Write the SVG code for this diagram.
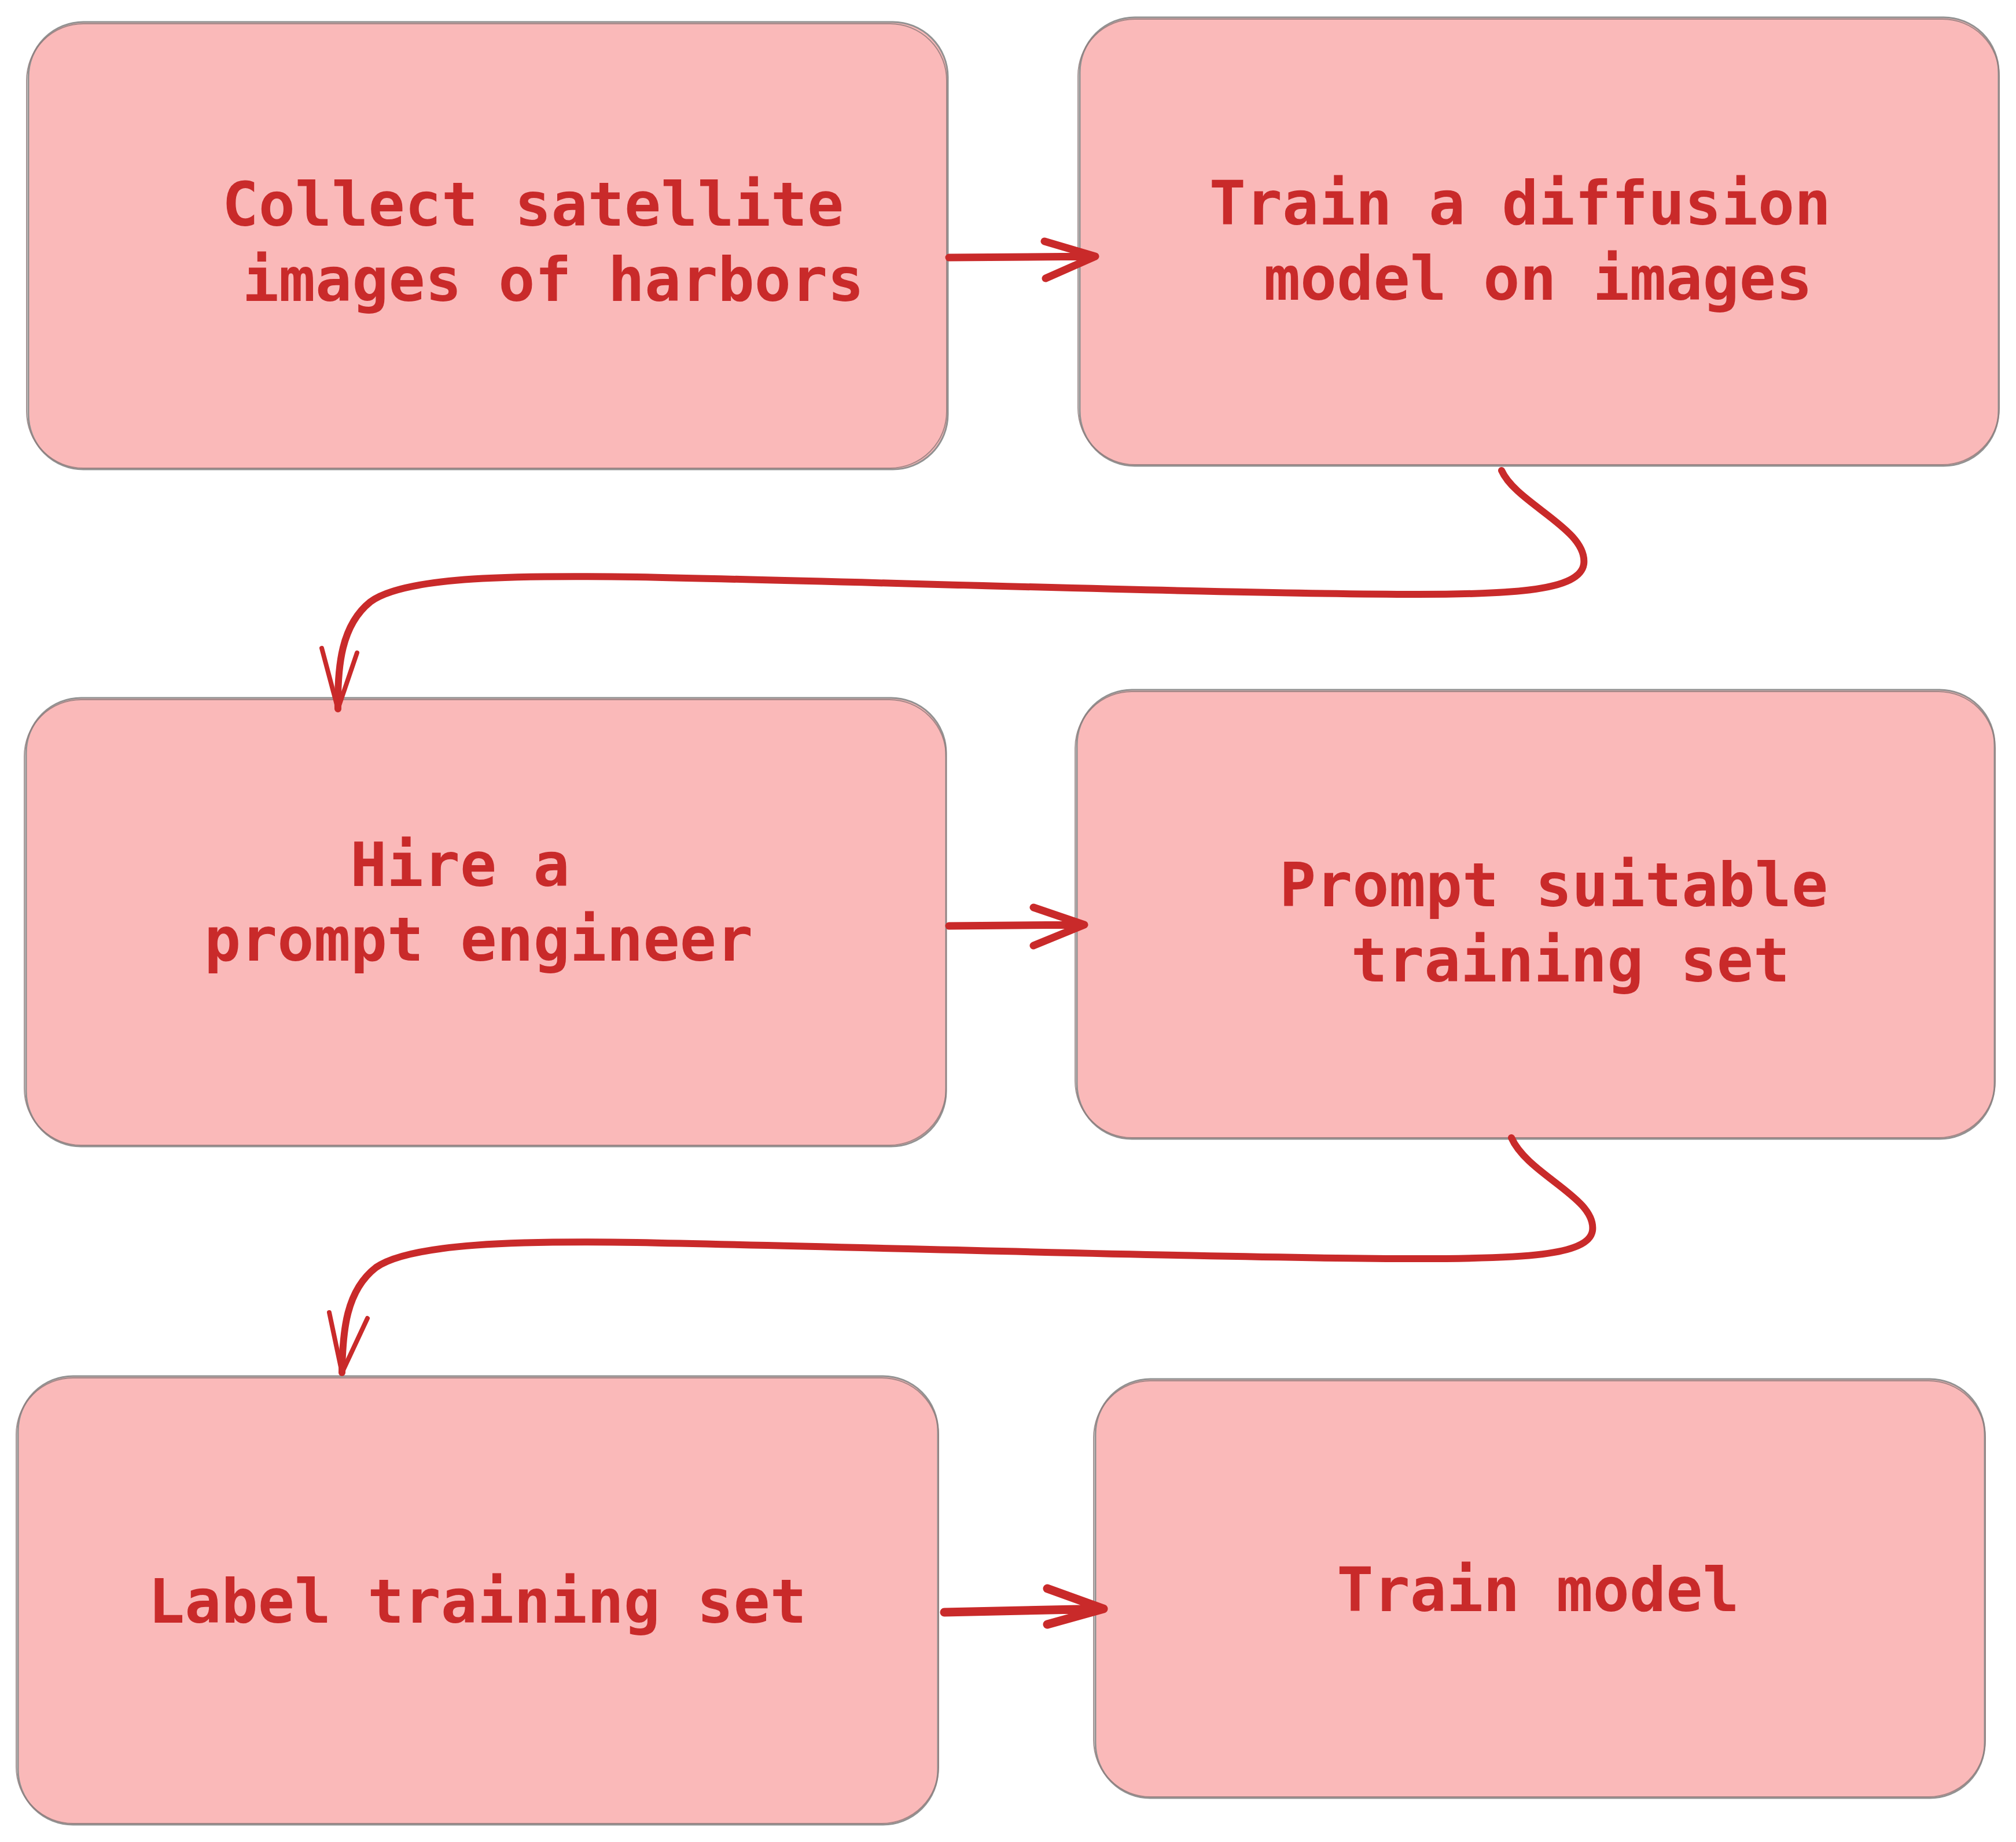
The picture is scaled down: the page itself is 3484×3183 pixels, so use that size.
<svg xmlns="http://www.w3.org/2000/svg" width="3484" height="3183" viewBox="0 0 3484 3183">
<style>
.box{fill:#fab9b9;stroke:#929292;stroke-width:3}
.box2{fill:none;stroke:#8f7a7a;stroke-width:2;opacity:0.8}
.lbl{font-family:"DejaVu Sans Mono","Liberation Mono",monospace;font-weight:bold;font-size:105px;fill:#c92a2a;text-anchor:middle}
.edge{fill:none;stroke:#c92a2a;stroke-linecap:round;stroke-linejoin:round}
</style>
<rect width="3484" height="3183" fill="#ffffff"/>
<g id="node-collect">
<rect class="box" x="49" y="38" width="1589" height="773" rx="95"/>
<rect class="box2" x="46" y="41" width="1590" height="768" rx="98"/>
<text class="lbl" x="921" y="390">Collect satellite</text>
<text class="lbl" x="956" y="520">images of harbors</text>
</g>
<g id="node-diffusion">
<rect class="box" x="1866" y="30" width="1588" height="775" rx="95"/>
<rect class="box2" x="1863" y="33" width="1592" height="770" rx="98"/>
<text class="lbl" x="2627" y="388">Train a diffusion</text>
<text class="lbl" x="2658" y="518">model on images</text>
</g>
<g id="node-hire">
<rect class="box" x="45" y="1206" width="1590" height="775" rx="95"/>
<rect class="box2" x="42" y="1209" width="1593" height="770" rx="98"/>
<text class="lbl" x="795" y="1531">Hire a</text>
<text class="lbl" x="827" y="1660">prompt engineer</text>
</g>
<g id="node-prompt">
<rect class="box" x="1861" y="1192" width="1586" height="776" rx="95"/>
<rect class="box2" x="1858" y="1195" width="1590" height="771" rx="98"/>
<text class="lbl" x="2685" y="1566">Prompt suitable</text>
<text class="lbl" x="2714" y="1696">training set</text>
</g>
<g id="node-label">
<rect class="box" x="31" y="2378" width="1590" height="775" rx="95"/>
<rect class="box2" x="28" y="2381" width="1594" height="770" rx="98"/>
<text class="lbl" x="825" y="2804">Label training set</text>
</g>
<g id="node-train">
<rect class="box" x="1893" y="2383" width="1537" height="724" rx="95"/>
<rect class="box2" x="1890" y="2386" width="1541" height="719" rx="98"/>
<text class="lbl" x="2658" y="2784">Train model</text>
</g>
<g id="connectors">
<path class="edge" stroke-width="13" d="M1640,445 L1893,443 M1805,417 L1893,443 L1807,481"/>
<path class="edge" stroke-width="13" d="M1640,1600 L1874,1598 M1786,1568 L1874,1598 L1786,1634"/>
<path class="edge" stroke-width="15" d="M1632,2786 L1907,2780 M1810,2745 L1907,2780 L1810,2807"/>
<path class="edge" stroke-width="12" d="M2595,813 C2620,870 2745,915 2737,975 C2730,1020 2620,1027 2450,1027 C2150,1027 1500,1005 1100,997 C900,994 700,995 640,1040 C590,1080 583,1150 584,1225"/>
<path class="edge" stroke-width="8" d="M556,1120 L584,1225 L617,1128"/>
<path class="edge" stroke-width="12" d="M2612,1966 C2640,2030 2760,2070 2752,2127 C2745,2170 2630,2175 2450,2175 C2150,2175 1500,2155 1100,2147 C900,2144 710,2148 650,2190 C598,2230 592,2300 591,2372"/>
<path class="edge" stroke-width="8" d="M569,2268 L591,2372 L635,2278"/>
</g>
</svg>
